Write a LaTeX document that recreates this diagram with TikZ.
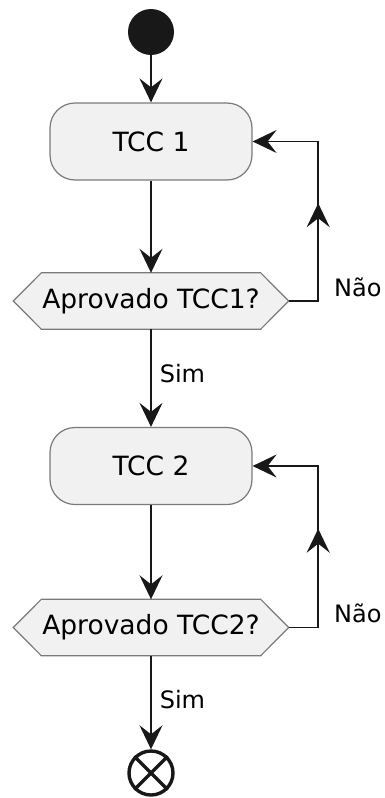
\documentclass[tikz,border=0pt]{standalone}
\usepackage{fontspec}
\setmainfont{DejaVu Sans}
\usetikzlibrary{arrows.meta,decorations.markings}
\definecolor{ink}{HTML}{181818}
\definecolor{boxfill}{HTML}{F1F1F1}
\definecolor{boxline}{HTML}{7A7A7A}
\tikzset{
  tip/.tip={Stealth[length=24pt,width=23pt,inset=9pt]},
  flow/.style={draw=ink,line width=1.6pt,-tip},
  activity/.style={draw=boxline,fill=boxfill,line width=1.2pt,rounded corners=25pt,
    minimum width=202pt,minimum height=77pt,inner sep=0pt,
    font=\fontsize{26.5}{30}\selectfont},
  choice/.style={minimum width=275pt,minimum height=56pt,inner sep=0pt,
    font=\fontsize{26.5}{30}\selectfont},
  hexa/.style={draw=boxline,fill=boxfill,line width=1.2pt},
  answer/.style={anchor=west,inner sep=0pt,font=\fontsize{24}{28}\selectfont},
  loop/.style={draw=ink,line width=1.6pt,-tip,
    postaction={decorate},
    decoration={markings,mark=at position 0.5 with {\arrow{tip}}}},
}
\newcommand{\hexagonof}[1]{%
  \path[hexa] (#1.west) -- ([xshift=28pt]#1.north west) -- ([xshift=-28pt]#1.north east)
    -- (#1.east) -- ([xshift=-28pt]#1.south east) -- ([xshift=28pt]#1.south west) -- cycle;}
\begin{document}
\begin{tikzpicture}[x=1pt,y=-1pt]
\useasboundingbox (0,0) rectangle (384,798);

% start / end markers
\node[circle,fill=ink,minimum size=46pt,inner sep=0pt] (start) at (151,32) {};
\node[circle,draw=ink,line width=3.4pt,minimum size=44pt,inner sep=0pt] (stop) at (151,773) {};
\draw[ink,line width=3.4pt] (stop.north west) -- (stop.south east)
  (stop.north east) -- (stop.south west);

% activities
\node[activity] (tcc1) at (151,141.5) {TCC 1};
\node[activity] (tcc2) at (151,466) {TCC 2};

% decisions
\node[choice] (d1) at (151,301) {};
\hexagonof{d1}
\node[choice] at (d1) {Aprovado TCC1?};
\node[choice] (d2) at (151,627.5) {};
\hexagonof{d2}
\node[choice] at (d2) {Aprovado TCC2?};

% main flow
\draw[flow] (start) -- (tcc1);
\draw[flow] (tcc1) -- (d1);
\draw[flow] (d1) -- (tcc2) node[answer,pos=0.45,xshift=8pt] {Sim};
\draw[flow] (tcc2) -- (d2);
\draw[flow] (d2) -- (stop) node[answer,pos=0.47,xshift=8pt] {Sim};

% retry loops
\draw[loop] (d1.east) -- ++(29.5,0) |- (tcc1.east);
\draw[loop] (d2.east) -- ++(29.5,0) |- (tcc2.east);
\node[answer] (n1) at (334,287) {Não};
\node[answer] (n2) at (334,613) {Não};
\end{tikzpicture}
\end{document}
